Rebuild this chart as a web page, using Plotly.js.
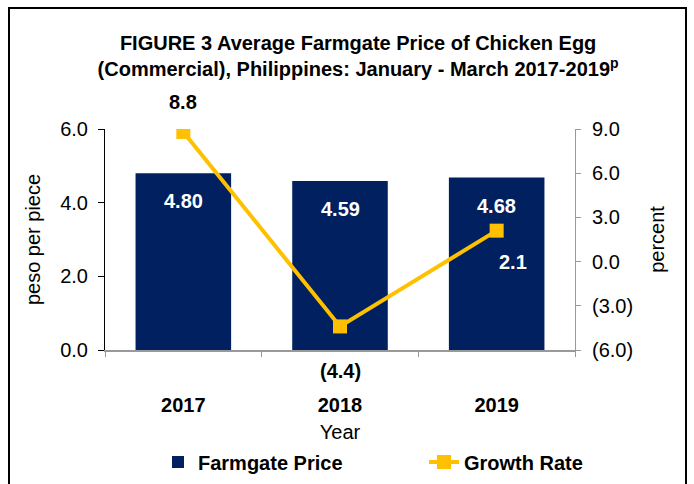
<!DOCTYPE html>
<html>
<head>
<meta charset="utf-8">
<script src="https://cdn.plot.ly/plotly-3.0.1.min.js"></script>
<style>html,body{margin:0;padding:0;background:#fff;}#chart{width:694px;height:484px;}</style>
</head>
<body>
<div id="chart"></div>
<script>
const years = ["2017", "2018", "2019"];
const farmgatePrice = [4.80, 4.59, 4.68];
const growthRate = [8.8, -4.4, 2.1];
const y2TickVals = [-6, -3, 0, 3, 6, 9];
const y2TickText = ["(6.0)", "(3.0)", "0.0", "3.0", "6.0", "9.0"];

const FONT = "Liberation Sans, Arial, sans-serif";
const FS = 20;
const navy = "#002060";
const gold = "#FFC000";

function fmtPct(v) { return v < 0 ? "(" + Math.abs(v).toFixed(1) + ")" : v.toFixed(1); }

const traces = [
  {
    type: "bar", name: "Farmgate Price", x: years, y: farmgatePrice,
    marker: { color: navy }, width: 0.61, hoverinfo: "none", legend: "legend"
  },
  {
    type: "scatter", mode: "lines+markers", name: "Growth Rate", x: years, y: growthRate,
    yaxis: "y2", line: { color: gold, width: 4 },
    marker: { color: gold, symbol: "square", size: 14 }, hoverinfo: "none", legend: "legend2"
  }
];

const annotations = [];
farmgatePrice.forEach((v, i) => {
  annotations.push({
    x: i, y: v, xref: "x", yref: "y", text: "<b>" + v.toFixed(2) + "</b>",
    showarrow: false, yshift: -28, font: { family: FONT, size: FS, color: "#fff" }
  });
});
const growthShift = [[0, 30], [0, -45], [16, -31]];
const growthColor = ["#000", "#000", "#fff"];
growthRate.forEach((v, i) => {
  annotations.push({
    x: i, y: v, xref: "x", yref: "y2", text: "<b>" + fmtPct(v) + "</b>",
    showarrow: false, xshift: growthShift[i][0], yshift: growthShift[i][1],
    font: { family: FONT, size: FS, color: growthColor[i] }
  });
});

const legendBase = {
  orientation: "h", xref: "container", yref: "container",
  xanchor: "left", y: 22 / 484, yanchor: "middle",
  font: { family: FONT, size: FS, color: "#000", weight: "bold" },
  bgcolor: "rgba(0,0,0,0)"
};

const layout = {
  width: 694, height: 484,
  margin: { l: 105, r: 119, t: 129, b: 134 },
  paper_bgcolor: "#fff", plot_bgcolor: "#fff",
  font: { family: FONT, size: FS, color: "#000" },
  showlegend: true,
  title: {
    text: "<b>FIGURE 3 Average Farmgate Price of Chicken Egg<br>(Commercial), Philippines: January - March 2017-2019<sup>p</sup></b>",
    font: { family: FONT, size: FS, color: "#000" },
    xref: "container", x: 0.516, xanchor: "center",
    yref: "container", y: 1 - 50 / 484, yanchor: "top"
  },
  xaxis: {
    type: "category", range: [-0.5, 2.5], automargin: false, showgrid: false, zeroline: false,
    showline: true, linecolor: "#999", linewidth: 1.5,
    ticks: "outside", tickson: "boundaries", ticklen: 5, tickcolor: "#999",
    tickfont: { family: FONT, size: FS, color: "#000", weight: "bold" },
    ticklabelstandoff: 36,
    title: { text: "Year", font: { family: FONT, size: FS, color: "#000" }, standoff: 43 }
  },
  yaxis: {
    range: [0, 6], dtick: 2, tickformat: ".1f", automargin: false, showgrid: false, zeroline: false,
    showline: true, linecolor: "#000", linewidth: 1, ticks: "outside", ticklen: 6, tickcolor: "#000",
    ticklabelstandoff: 6,
    tickfont: { family: FONT, size: FS, color: "#000" },
    title: { text: "peso per piece", font: { family: FONT, size: FS, color: "#000" }, standoff: 14 }
  },
  yaxis2: {
    overlaying: "y", side: "right", range: [-6, 9], automargin: false,
    tickmode: "array", tickvals: y2TickVals, ticktext: y2TickText,
    showgrid: false, zeroline: false,
    showline: true, linecolor: "#999", linewidth: 1, ticks: "outside", ticklen: 5, tickcolor: "#999",
    ticklabelstandoff: 7,
    tickfont: { family: FONT, size: FS, color: "#000" },
    title: { text: "percent", font: { family: FONT, size: FS, color: "#000" }, standoff: 17 }
  },
  legend: Object.assign({}, legendBase, { x: 158 / 694 }),
  legend2: Object.assign({}, legendBase, { x: 424 / 694 }),
  annotations: annotations,
  shapes: [{
    type: "rect", xref: "paper", yref: "paper", layer: "above",
    x0: (9 - 105) / 470, x1: (686 - 105) / 470,
    y0: (350 - 495) / 221, y1: (350 - 8) / 221,
    line: { color: "#000", width: 2 }, fillcolor: "rgba(0,0,0,0)"
  }]
};

Plotly.newPlot("chart", traces, layout, { displayModeBar: false, staticPlot: true });
</script>
</body>
</html>
